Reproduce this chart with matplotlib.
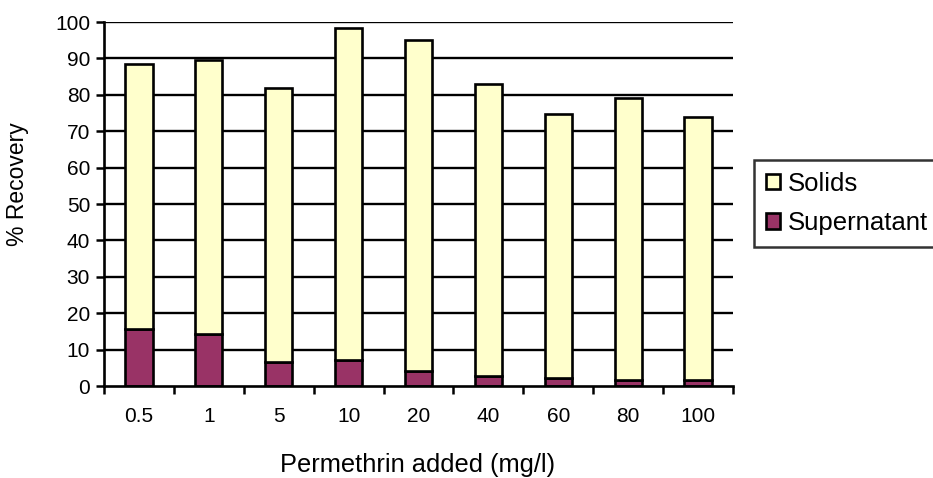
import matplotlib
matplotlib.use("Agg")
import matplotlib.pyplot as plt
import numpy as np

categories = ["0.5", "1", "5", "10", "20", "40", "60", "80", "100"]
supernatant = [15.6, 14.2, 6.7, 7.1, 4.2, 2.8, 2.1, 1.6, 1.6]
totals = [88.4, 89.6, 82.0, 98.4, 95.1, 82.9, 74.7, 79.2, 73.8]
solids = [t - s for t, s in zip(totals, supernatant)]
yticks = list(range(0, 101, 10))

plt.rcParams['font.family'] = ['Liberation Sans', 'DejaVu Sans']

fig = plt.figure(figsize=(9.33, 4.78), dpi=100)
ax = fig.add_axes([104/933, 1-386/478, (733-104)/933, (386-22)/478])

x = np.arange(len(categories))
w = 0.39
ax.set_axisbelow(True)
for yv in yticks[1:]:
    ax.axhline(yv, color='black', lw=1.7, zorder=0)
ax.bar(x, supernatant, width=w, color='#993366', edgecolor='black', lw=1.9, label='Supernatant', zorder=2)
ax.bar(x, solids, width=w, bottom=supernatant, color='#FFFFCC', edgecolor='black', lw=1.9, label='Solids', zorder=2)

ax.set_xlim(-0.5, len(categories) - 0.5)
ax.set_ylim(0, 100)
ax.set_yticks(yticks)
ax.set_yticklabels([str(v) for v in yticks], fontsize=15)
ax.set_xticks(x)
ax.set_xticklabels(categories, fontsize=15)
ax.tick_params(axis='x', which='major', length=0, pad=15)
ax.set_xticks(np.arange(-0.5, len(categories), 1), minor=True)
ax.tick_params(axis='x', which='minor', length=6, width=1.8, direction='out')
ax.tick_params(axis='y', length=6, width=1.8, direction='out', pad=4)

for s in ['top', 'right']:
    ax.spines[s].set_visible(False)
for s in ['left', 'bottom']:
    ax.spines[s].set_linewidth(1.9)

ax.set_ylabel('% Recovery', fontsize=16.5)
ax.yaxis.set_label_coords((18-104)/629, (386-184)/364)
ax.yaxis.label.set_va('center')
ax.set_xlabel('Permethrin added (mg/l)', fontsize=18.3)
ax.xaxis.set_label_coords((418-104)/629, (386-465)/364)
ax.xaxis.label.set_va('center')

handles, labels = ax.get_legend_handles_labels()
leg = fig.legend(handles[::-1], labels[::-1], loc='center left',
                 bbox_to_anchor=(754/933, 1-203.5/478), bbox_transform=fig.transFigure,
                 fontsize=18.5, frameon=True, fancybox=False, edgecolor='black',
                 handlelength=0.55, handleheight=0.55, handletextpad=0.3,
                 borderpad=0.45, labelspacing=0.6, borderaxespad=0)
leg.get_frame().set_linewidth(1.8)

fig.savefig('out.png', dpi=100)
